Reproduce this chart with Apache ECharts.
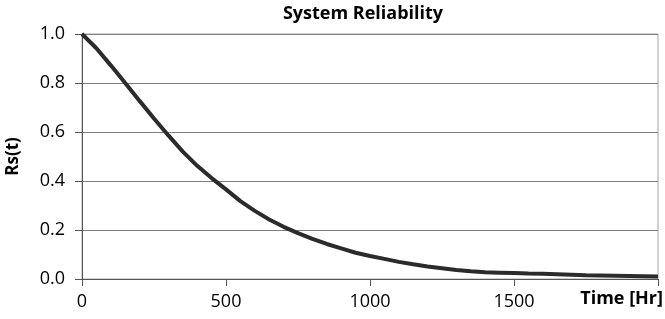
<!DOCTYPE html>
<html>
<head>
<meta charset="utf-8">
<script src="https://cdn.jsdelivr.net/npm/echarts@6/dist/echarts.min.js"></script>
<style>html,body{margin:0;padding:0;background:#fff}#c{width:665px;height:319px}</style>
</head>
<body>
<div id="c"></div>
<script>
const titleText = 'System Reliability';
const xName = 'Time [Hr]';
const yName = 'Rs(t)';
const timeHr = [0,50,100,150,200,250,300,350,400,450,500,550,600,650,700,750,800,850,900,950,1000,1050,1100,1150,1200,1250,1300,1350,1400,1450,1500,1550,1600,1650,1700,1750,1800,1850,1900,1950,2000];
const reliability = [1.0,0.942,0.872,0.80,0.727,0.655,0.586,0.52,0.462,0.412,0.366,0.318,0.278,0.243,0.213,0.187,0.164,0.143,0.125,0.107,0.094,0.082,0.07,0.06,0.051,0.044,0.037,0.032,0.028,0.026,0.024,0.022,0.021,0.019,0.017,0.015,0.014,0.013,0.012,0.011,0.010];
const xTicks = [0,500,1000,1500];

const font = 'Open Sans';
const chart = echarts.init(document.getElementById('c'));
chart.setOption({
  animation: false,
  title: {
    text: titleText, left: 358, top: 0, textAlign: 'center',
    textStyle: {fontFamily: font, fontWeight: 'bold', fontSize: 18, color: '#000'}
  },
  grid: {left: 82, right: 7, top: 34, bottom: 40, show: true, borderColor: '#a6a6a6', borderWidth: 1, containLabel: false, outerBoundsMode: 'none'},
  xAxis: {
    type: 'value', min: 0, max: 2000, interval: 500,
    name: xName, nameLocation: 'end', nameGap: 5,
    nameTextStyle: {fontFamily: font, fontWeight: 'bold', fontSize: 18, color: '#000', align: 'right', verticalAlign: 'top', padding: [11, 0, 0, 0]},
    axisLine: {show: true, lineStyle: {color: '#555', width: 1}},
    axisTick: {show: true, inside: false, length: 7, lineStyle: {color: '#555'}},
    axisLabel: {fontFamily: font, fontSize: 18, color: '#000', margin: 14,
      formatter: v => xTicks.indexOf(v) >= 0 ? String(v) : ''},
    splitLine: {show: false}
  },
  yAxis: {
    type: 'value', min: 0, max: 1, interval: 0.2,
    name: yName, nameLocation: 'middle', nameGap: 60, nameRotate: 90,
    nameTextStyle: {fontFamily: font, fontWeight: 'bold', fontSize: 17, color: '#000'},
    axisLine: {show: true, lineStyle: {color: '#555', width: 1}},
    axisTick: {show: true, inside: false, length: 7, lineStyle: {color: '#555'}},
    axisLabel: {fontFamily: font, fontSize: 18, color: '#000', margin: 17, formatter: v => v.toFixed(1)},
    splitLine: {show: true, lineStyle: {color: '#7f7f7f', width: 1}}
  },
  series: [{
    type: 'line', data: timeHr.map((t, i) => [t, reliability[i]]),
    showSymbol: false, symbol: 'none',
    lineStyle: {color: '#2b2b2b', width: 4}
  }]
});
</script>
</body>
</html>
